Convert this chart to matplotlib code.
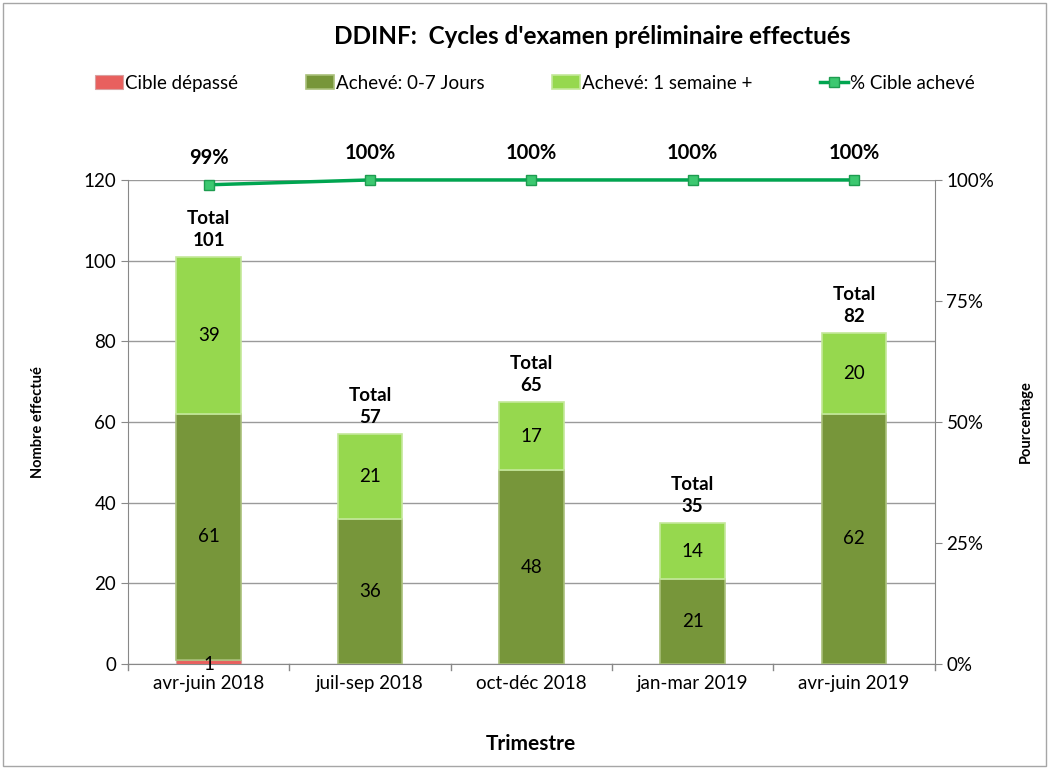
import matplotlib.pyplot as plt
from matplotlib.patches import Rectangle

plt.rcParams['font.family'] = ['Lato', 'DejaVu Sans']

quarters = ["avr-juin 2018", "juil-sep 2018", "oct-déc 2018", "jan-mar 2019", "avr-juin 2019"]
cible_depasse = [1, 0, 0, 0, 0]
acheve_0_7 = [61, 36, 48, 21, 62]
acheve_1sem = [39, 21, 17, 14, 20]
totals = [101, 57, 65, 35, 82]
pct_achieve = [99, 100, 100, 100, 100]

RED = "#E8605E"
DARK = "#77963A"
LIGHT = "#96D84E"
LINE = "#00A550"

fig = plt.figure(figsize=(10.49, 7.69), dpi=100)
fig.patches.append(Rectangle((0.003, 0.004), 0.994, 0.992, transform=fig.transFigure,
                             fill=False, edgecolor="#A6A6A6", lw=1))
ax = fig.add_axes([0.122, 0.1365, 0.769, 0.6295])
ax2 = ax.twinx()

x = range(len(quarters))
w = 0.4
ax.bar(x, cible_depasse, w, color=RED, edgecolor="#D9A0A0", lw=0.8, label="Cible dépassé", zorder=3)
ax.bar(x, acheve_0_7, w, bottom=cible_depasse, color=DARK, edgecolor="#A9C07A", lw=1.2,
       label="Achevé: 0-7 Jours", zorder=3)
bot2 = [a + b for a, b in zip(cible_depasse, acheve_0_7)]
ax.bar(x, acheve_1sem, w, bottom=bot2, color=LIGHT, edgecolor="#C4E89A", lw=1.2,
       label="Achevé: 1 semaine +", zorder=3)

for i in x:
    if cible_depasse[i]:
        ax.text(i, 0, str(cible_depasse[i]), ha="center", va="center", fontsize=13.5, zorder=5)
    ax.text(i, cible_depasse[i] + acheve_0_7[i] / 2, str(acheve_0_7[i]), ha="center", va="center",
            fontsize=13.5, zorder=5)
    ax.text(i, bot2[i] + acheve_1sem[i] / 2, str(acheve_1sem[i]), ha="center", va="center",
            fontsize=13.5, zorder=5)
    ax.text(i, totals[i] + 2, "Total\n" + str(totals[i]), ha="center", va="bottom",
            fontsize=13.5, fontweight="bold", linespacing=1.35, zorder=5)

ax.set_ylim(0, 120)
ax.set_yticks(range(0, 121, 20))
ax.set_xlim(-0.5, len(quarters) - 0.5)
ax.set_xticks(list(x))
ax.set_xticklabels(quarters, fontsize=13.5)
ax.grid(axis="y", color="#9A9A9A", lw=1, zorder=0)
ax.set_axisbelow(True)
ax.tick_params(axis="y", labelsize=13.5, length=5, color="#888888")
ax.tick_params(axis="x", length=0, pad=8)
for sp in ["top", "right"]:
    ax.spines[sp].set_visible(False)
ax.spines["left"].set_color("#888888")
ax.spines["bottom"].set_color("#888888")
ax.set_ylabel("Nombre effectué", fontsize=10.5, fontweight="bold", labelpad=28)
ax.set_xlabel("Trimestre", fontsize=15, fontweight="bold", labelpad=30)
for b in range(len(quarters) + 1):
    ax.plot([b - 0.5, b - 0.5], [0, -1.6], color="#888888", lw=1, clip_on=False)

ax2.plot(list(x), pct_achieve, color=LINE, lw=2.5, marker="s", markersize=7,
         markerfacecolor="#3CC870", markeredgecolor="#1E9C50", label="% Cible achevé",
         zorder=4, clip_on=False)
ax2.set_ylim(0, 100)
ax2.set_yticks([0, 25, 50, 75, 100])
ax2.set_yticklabels(["0%", "25%", "50%", "75%", "100%"], fontsize=13.5)
ax2.tick_params(axis="y", length=5, color="#888888")
for sp in ["top", "left", "bottom"]:
    ax2.spines[sp].set_visible(False)
ax2.spines["right"].set_color("#888888")
ax2.set_ylabel("Pourcentage", fontsize=10.5, fontweight="bold", labelpad=18)
for i in x:
    ax2.text(i, pct_achieve[i] + 3.5, f"{pct_achieve[i]}%", ha="center", va="bottom",
             fontsize=14.5, fontweight="bold", clip_on=False)

h1, l1 = ax.get_legend_handles_labels()
h2, l2 = ax2.get_legend_handles_labels()
fig.legend(h1 + h2, l1 + l2, loc="center", bbox_to_anchor=(0.51, 0.892), ncol=4, frameon=False,
           fontsize=13.5, handlelength=1.5, handletextpad=0.1, columnspacing=3.6)

fig.text(0.565, 0.953, "DDINF:  Cycles d'examen préliminaire effectués", ha="center", va="center",
         fontsize=17.5, fontweight="bold")

fig.savefig("out.png", dpi=100)
